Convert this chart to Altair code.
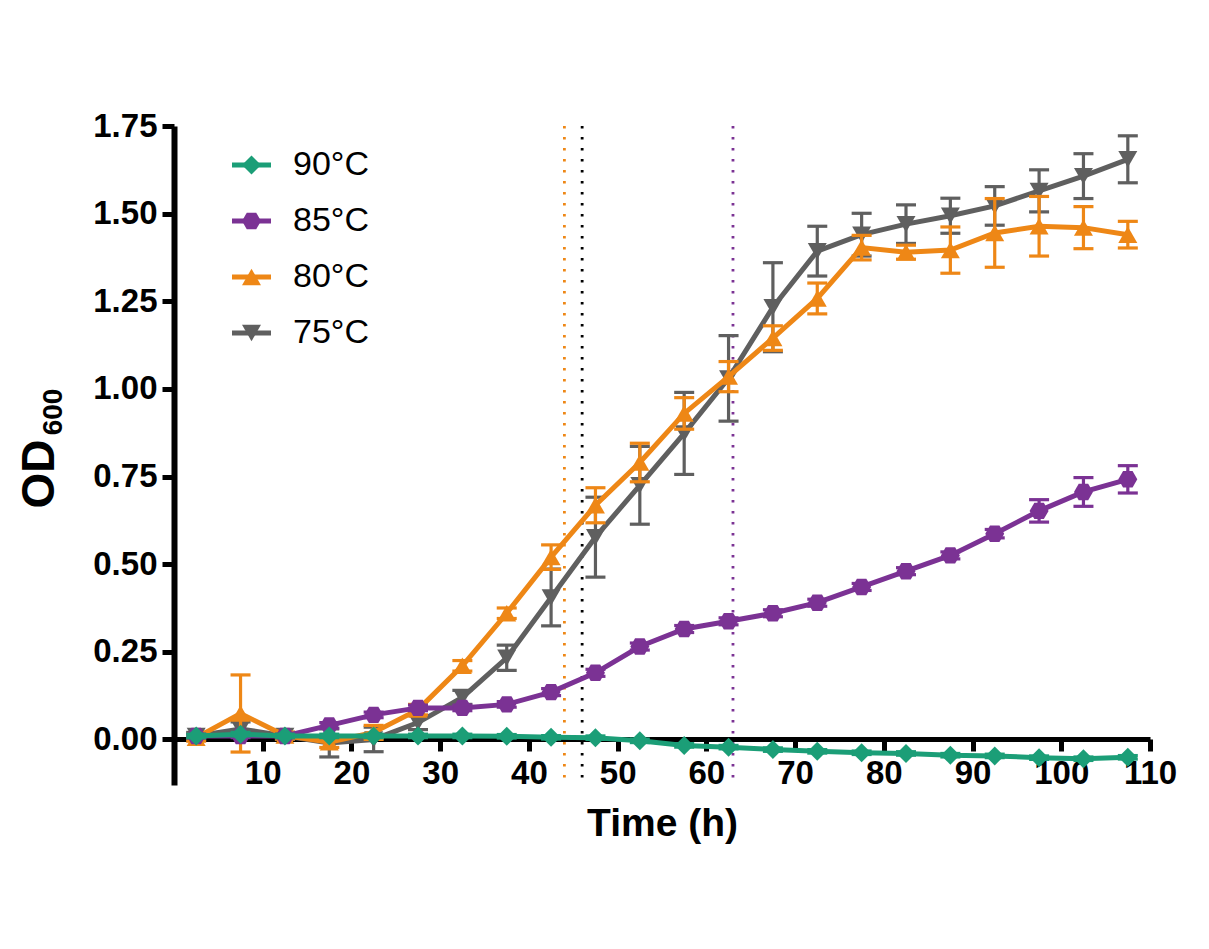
import altair as alt
import pandas as pd

FONT = "Liberation Sans"

times = [2.5, 7.5, 12.5, 17.5, 22.5, 27.5, 32.5, 37.5, 42.5, 47.5, 52.5,
         57.5, 62.5, 67.5, 72.5, 77.5, 82.5, 87.5, 92.5, 97.5, 102.5, 107.5]

series_names = ["90°C", "85°C", "80°C", "75°C"]
series_colors = ["#1b9e77", "#7b3294", "#ee8716", "#5f5f5f"]
HEXAGON = "M-1,0L-0.5,-0.866L0.5,-0.866L1,0L0.5,0.866L-0.5,0.866Z"
series_shapes = ["diamond", HEXAGON, "triangle-up", "triangle-down"]

od90 = [0.010, 0.015, 0.010, 0.010, 0.010, 0.010, 0.010, 0.009, 0.006, 0.005, -0.004,
        -0.017, -0.022, -0.029, -0.034, -0.038, -0.040, -0.045, -0.047, -0.052, -0.055, -0.051]
err90 = [0.005, 0.005, 0.005, 0.005, 0.005, 0.005, 0.005, 0.005, 0.005, 0.005, 0.005,
         0.005, 0.005, 0.005, 0.005, 0.005, 0.005, 0.005, 0.005, 0.005, 0.005, 0.005]

od85 = [0.010, 0.010, 0.010, 0.040, 0.070, 0.090, 0.090, 0.100, 0.135, 0.190, 0.265,
        0.315, 0.337, 0.360, 0.390, 0.435, 0.480, 0.525, 0.587, 0.652, 0.706, 0.742]
err85 = [0.005, 0.005, 0.005, 0.008, 0.008, 0.008, 0.008, 0.008, 0.010, 0.010, 0.010,
         0.010, 0.010, 0.010, 0.010, 0.010, 0.010, 0.010, 0.012, 0.032, 0.041, 0.039]

od80 = [0.005, 0.074, 0.011, -0.008, 0.020, 0.085, 0.210, 0.360, 0.520, 0.668, 0.790,
        0.930, 1.035, 1.145, 1.258, 1.403, 1.390, 1.396, 1.445, 1.464, 1.460, 1.440]
err80 = [0.010, 0.110, 0.010, 0.015, 0.020, 0.015, 0.015, 0.015, 0.035, 0.050, 0.055,
         0.045, 0.043, 0.035, 0.044, 0.035, 0.020, 0.066, 0.098, 0.085, 0.060, 0.038]

od75 = [0.010, 0.030, 0.010, -0.010, 0.000, 0.048, 0.120, 0.233, 0.405, 0.577, 0.725,
        0.873, 1.030, 1.233, 1.393, 1.440, 1.470, 1.494, 1.522, 1.565, 1.607, 1.655]
err75 = [0.010, 0.020, 0.010, 0.040, 0.035, 0.020, 0.020, 0.036, 0.081, 0.114, 0.111,
         0.117, 0.122, 0.127, 0.071, 0.061, 0.055, 0.050, 0.055, 0.060, 0.064, 0.067]

vline_times = [44, 46, 63]
vline_colors = ["#ee8716", "#000000", "#7b3294"]

x_ticks = [10, 20, 30, 40, 50, 60, 70, 80, 90, 100, 110]
y_ticks = [0.0, 0.25, 0.5, 0.75, 1.0, 1.25, 1.5, 1.75]

values = [od90, od85, od80, od75]
errors = [err90, err85, err80, err75]

x_axis = alt.Axis(values=x_ticks, title="Time (h)", offset=-46, grid=False,
                  domainWidth=5, domainColor="black", tickWidth=5, tickColor="black",
                  tickSize=12, labelFontSize=33, labelFontWeight="bold", labelFont=FONT,
                  labelColor="black", labelPadding=6, labelFlush=False, labelOverlap=False,
                  titleFontSize=39, titleFontWeight="bold", titleFont=FONT,
                  titleColor="black", titlePadding=14)
y_axis = alt.Axis(values=y_ticks, format=".2f", title=None, grid=False,
                  domainWidth=6, domainColor="black", tickWidth=5, tickColor="black",
                  tickSize=12, labelFontSize=33, labelFontWeight="bold", labelFont=FONT,
                  labelColor="black", labelPadding=5, labelFlush=False, labelOverlap=False)
x_scale = alt.Scale(domain=[0, 110], nice=False, zero=False)
y_scale = alt.Scale(domain=[-0.13, 1.75], nice=False, zero=False)


def X(field="t"):
    return alt.X(f"{field}:Q", scale=x_scale, axis=x_axis)


def Y(field):
    return alt.Y(f"{field}:Q", scale=y_scale, axis=y_axis)


layers = []

vdf = pd.DataFrame({"t": vline_times, "c": vline_colors})
layers.append(
    alt.Chart(vdf).mark_rule(strokeWidth=2.8, strokeDash=[2.5, 8.5]).encode(
        x=X(), color=alt.Color("c:N", scale=None))
)

# draw series bottom to top: 75, 80, 85, 90
for idx in [3, 2, 1, 0]:
    name, col, shp = series_names[idx], series_colors[idx], series_shapes[idx]
    df = pd.DataFrame({"t": times, "od": values[idx]})
    df["lo"] = [v - e for v, e in zip(values[idx], errors[idx])]
    df["hi"] = [v + e for v, e in zip(values[idx], errors[idx])]
    base = alt.Chart(df)
    layers.append(base.mark_rule(color=col, strokeWidth=3.2).encode(
        x=X(), y=Y("lo"), y2=alt.Y2("hi")))
    layers.append(base.mark_rule(color=col, strokeWidth=3.2, xOffset=-10, x2Offset=10).encode(
        x=X(), x2=alt.X2("t"), y=Y("hi")))
    layers.append(base.mark_rule(color=col, strokeWidth=3.2, xOffset=-10, x2Offset=10).encode(
        x=X(), x2=alt.X2("t"), y=Y("lo")))
    layers.append(base.mark_line(color=col, strokeWidth=5).encode(x=X(), y=Y("od")))
    layers.append(base.mark_point(color=col, filled=True, opacity=1, size=360, shape=shp,
                                  strokeWidth=0).encode(x=X(), y=Y("od")))

# legend
for i, (name, col, shp) in enumerate(zip(series_names, series_colors, series_shapes)):
    ly = 39 + 56 * i
    ldf = pd.DataFrame({"label": [name]})
    lb = alt.Chart(ldf)
    layers.append(lb.mark_rule(color=col, strokeWidth=5).encode(
        x=alt.value(58), x2=alt.value(97), y=alt.value(ly)))
    layers.append(lb.mark_point(color=col, filled=True, opacity=1, size=360, shape=shp,
                                strokeWidth=0).encode(x=alt.value(77.5), y=alt.value(ly)))
    layers.append(lb.mark_text(align="left", baseline="middle", fontSize=34, font=FONT,
                               color="black").encode(
        x=alt.value(119), y=alt.value(ly), text="label:N"))

# y-axis title with subscript
tdf1 = pd.DataFrame({"txt": ["OD"]})
tdf2 = pd.DataFrame({"txt": ["600"]})
layers.append(alt.Chart(tdf1).mark_text(angle=270, fontSize=46, fontWeight="bold", font=FONT,
                                        align="center", baseline="middle", color="black").encode(
    x=alt.value(-134), y=alt.value(348), text="txt:N"))
layers.append(alt.Chart(tdf2).mark_text(angle=270, fontSize=28, fontWeight="bold", font=FONT,
                                        align="center", baseline="middle", color="black").encode(
    x=alt.value(-120), y=alt.value(286), text="txt:N"))

chart = alt.layer(*layers).properties(
    width=976, height=659,
    padding={"left": 166, "top": 118, "right": 45, "bottom": 100},
    autosize=alt.AutoSizeParams(type="none"),
    background="white",
).configure_view(stroke=None)

chart.save("out.html", embed_options={"renderer": "svg", "actions": False})
